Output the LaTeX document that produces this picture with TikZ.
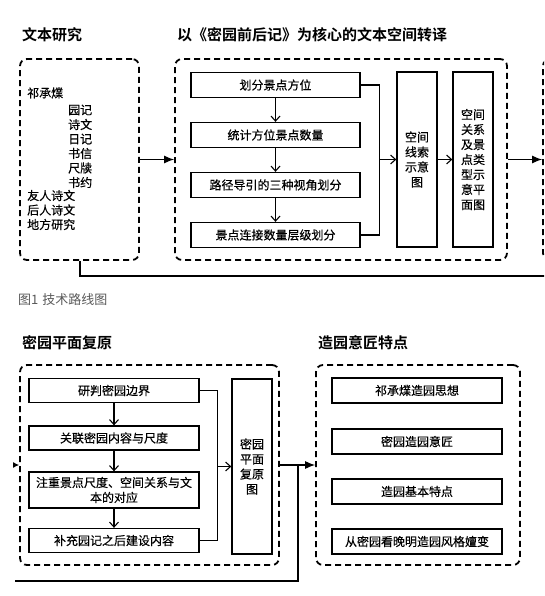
\documentclass[tikz,border=0pt]{standalone}
\usepackage{fontspec}
\setmainfont{Noto Sans CJK SC}[BoldFont={Noto Sans CJK SC Bold}]
\newfontfamily\boxfont{Noto Sans CJK SC}[FakeBold=0.4]
\usepackage{tikz}
\usetikzlibrary{arrows.meta,calc,positioning}
\tikzset{
    mypanel/.style={draw=black,line width=1.8pt,dash pattern=on 6pt off 4pt,rounded corners=7pt,inner sep=0pt},
    mybox/.style={draw=black,line width=1.3pt,inner sep=0pt,minimum width=170pt,minimum height=25pt,align=center,font=\boxfont\fontsize{12}{15}\selectfont},
    mytall/.style={mybox,minimum width=40pt,minimum height=175pt},
    myline/.style={line width=1.1pt,draw=black},
    myarrow/.style={myline,-{Straight Barb[length=5pt,width=9pt]}},
    mybigarrow/.style={myline,-{Latex[length=10pt,width=8pt]}},
    mytitle/.style={anchor=west,inner sep=0pt,font=\fontsize{15}{18}\selectfont\bfseries},
    mylist/.style={anchor=west,inner sep=0pt,font=\boxfont\fontsize{12}{14}\selectfont}
}
\begin{document}
\begin{tikzpicture}[x=1pt,y=-1pt]
    \useasboundingbox (0,0) rectangle (544,596);
    \clip (0,0) rectangle (544,596);

    % 标题
    \node[mytitle] (t1) at (22,35) {文本研究};
    \node[mytitle] (t2) at (177,35) {以《密园前后记》为核心的文本空间转译};
    \node[mytitle] (t3) at (22,343) {密园平面复原};
    \node[mytitle] (t4) at (318,343) {造园意匠特点};
    \node[anchor=west,inner sep=0pt,text=black!65,
        font=\fontsize{13}{15}\selectfont] (cap) at (18,300) {图1\hspace{4pt}技术路线图};

    % 上排虚线框
    \node[mypanel,minimum width=119pt,minimum height=201pt] (yanjiu) at (79.5,159.5) {};
    \node[mypanel,minimum width=332pt,minimum height=201pt] (zhuanyi) at (341,159.5) {};
    \node[mypanel,minimum width=200pt,minimum height=201pt] (next) at (643,159.5) {};

    % 文本研究
    \node[mylist] (qi) at (27,93) {祁承㸁};
    \foreach \t [count=\i] in {园记,诗文,日记,书信,尺牍,书约}
        \node[mylist] (w\i) at (68,{95.5+14.5*\i}) {\t};
    \foreach \t [count=\i] in {友人诗文,后人诗文,地方研究}
        \node[mylist] (f\i) at (27,{181+14.5*\i}) {\t};

    % 文本空间转译
    \node[mybox,minimum width=169pt] (b1) at (275.5,85) {划分景点方位};
    \node[mybox,minimum width=169pt] (b2) at (275.5,135) {统计方位景点数量};
    \node[mybox,minimum width=169pt] (b3) at (275.5,185) {路径导引的三种视角划分};
    \node[mybox,minimum width=169pt] (b4) at (275.5,235) {景点连接数量层级划分};
    \node[mytall] (xiansuo) at (417,159.5) {空间\\线索\\示意\\图};
    \node[mytall] (guanxi) at (473,159.5) {空间\\关系\\及景\\点类\\型示\\意平\\面图};

    \draw[myarrow] (b1) -- (b2);
    \draw[myarrow] (b2) -- (b3);
    \draw[myarrow] (b3) -- (b4);
    \coordinate (jt) at ($(b1.east)+(19,0)$);
    \draw[myline] (b1.east) -- (jt) |- (b4.east);
    \draw[myarrow] (jt |- xiansuo.west) -- (xiansuo.west);
    \draw[myarrow] (xiansuo) -- (guanxi);

    \draw[mybigarrow] (yanjiu) -- (zhuanyi);
    \draw[mybigarrow] (zhuanyi) -- (next);
    \coordinate (lb) at (80,276);
    \coordinate (lr) at (560,276);
    \draw[myline] (lb |- yanjiu.south) -- (lb) -- (lr);

    % 下排虚线框
    \node[mypanel,minimum width=259pt,minimum height=200pt] (fuyuan) at (149.5,465) {};
    \node[mypanel,minimum width=204pt,minimum height=200pt] (tedian) at (418,465) {};

    % 密园平面复原
    \node[mybox,minimum height=24pt] (c1) at (114,390.5) {研判密园边界};
    \node[mybox,minimum height=24pt] (c2) at (114,438) {关联密园内容与尺度};
    \node[mybox,minimum height=36pt] (c3) at (114,490) {注重景点尺度、空间关系与文\\本的对应};
    \node[mybox,minimum height=24pt] (c4) at (114,540.5) {补充园记之后建设内容};
    \node[mytall] (pingmian) at (252,466.5) {密园\\平面\\复原\\图};

    \draw[myarrow] (c1) -- (c2);
    \draw[myarrow] (c2) -- (c3);
    \draw[myarrow] (c3) -- (c4);
    \coordinate (jb) at ($(c1.east)+(18,0)$);
    \draw[myline] (c1.east) -- (jb) |- (c4.east);
    \draw[myarrow] (jb |- pingmian.west) -- (pingmian.west);

    % 造园意匠特点
    \node[mybox] (d1) at (417,390.5) {祁承㸁造园思想};
    \node[mybox] (d2) at (417,441.5) {密园造园意匠};
    \node[mybox] (d3) at (417,491.5) {造园基本特点};
    \node[mybox] (d4) at (417,541.5) {从密园看晚明造园风格嬗变};

    \draw[mybigarrow] (fuyuan) -- (tedian);
    \coordinate (bl) at (15,581);
    \coordinate (bm) at (298,581);
    \draw[myline] (bl) -- (bm) -- (bm |- tedian.west);
    \coordinate (la) at (13,465);
    \draw[line width=1.1pt,-{Latex[length=6pt,width=6pt]}] (la) -- (fuyuan.west);
\end{tikzpicture}
\end{document}
